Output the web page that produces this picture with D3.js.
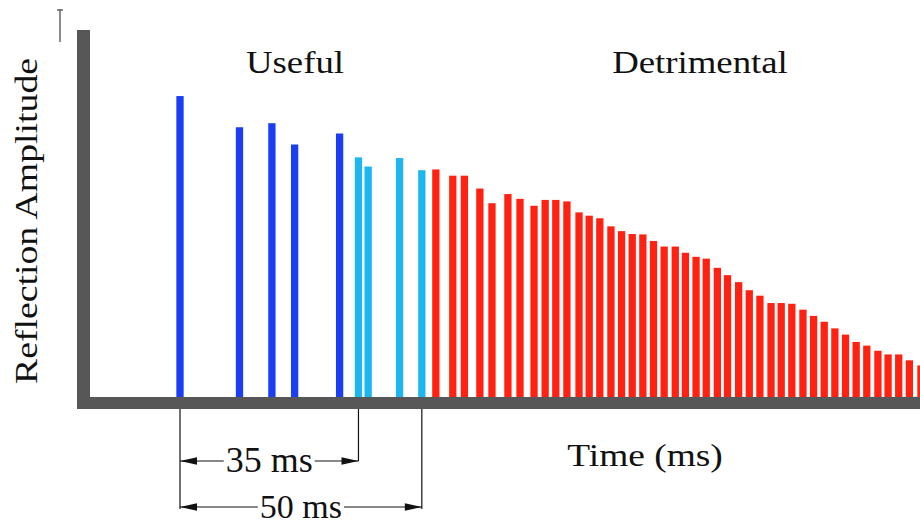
<!DOCTYPE html>
<html>
<head>
<meta charset="utf-8">
<script src="https://cdn.jsdelivr.net/npm/d3@7"></script>
<style>
  body { margin: 0; background: #fff; }
  text { font-family: "Liberation Serif", "Times New Roman", serif; fill: #111; }
</style>
</head>
<body>
<div id="chart"></div>
<script>
// arrival time (ms) and relative amplitude of each reflection
var directTimes = [0, 12.3, 19.0, 23.7, 33.0];
var directAmps = [0.82, 0.735, 0.746, 0.688, 0.718];

var earlyTimes = [36.9, 38.9, 45.4, 50.0];
var earlyAmps = [0.653, 0.628, 0.651, 0.618];

var lateTimes = [52.9, 56.4, 58.8, 62.0, 64.5, 67.8, 70.3, 73.2, 75.5, 77.7,
    80.0, 82.5, 84.6, 86.8, 89.1, 91.3, 93.5, 95.7, 97.9, 100.1,
    102.4, 104.5, 106.7, 108.8, 111.1, 113.2, 115.5, 117.7, 119.9, 122.2,
    124.3, 126.5, 128.8, 131.0, 133.2, 135.4, 137.6, 139.8, 142.0, 144.3,
    146.4, 148.6, 150.8, 153.2];
var lateAmps = [0.620, 0.603, 0.603, 0.568, 0.528, 0.553, 0.540, 0.521, 0.537, 0.537,
    0.533, 0.503, 0.494, 0.487, 0.465, 0.452, 0.444, 0.443, 0.425, 0.410,
    0.410, 0.393, 0.382, 0.377, 0.352, 0.332, 0.313, 0.291, 0.276, 0.256,
    0.256, 0.254, 0.238, 0.221, 0.205, 0.187, 0.170, 0.150, 0.140, 0.126,
    0.116, 0.116, 0.100, 0.086];

var regionLabels = ["Useful", "Detrimental"];
var bracketLabels = ["35 ms", "50 ms"];
var bracketEnds = [36.9, 50.0];

var width = 920, height = 525;

var svg = d3.select("#chart")
    .append("svg")
    .attr("width", width)
    .attr("height", height);

var x = d3.scaleLinear().domain([0, 153]).range([180, 920]);
var y = d3.scaleLinear().domain([0, 1]).range([397, 30]);

var groups = [
    { times: directTimes, amps: directAmps, color: "#1b3ef2" },
    { times: earlyTimes, amps: earlyAmps, color: "#1db6ee" },
    { times: lateTimes, amps: lateAmps, color: "#ff2212" }
];

var barW = 7.3;

groups.forEach(function(g) {
    var data = g.times.map(function(t, i) { return { t: t, a: g.amps[i] }; });
    svg.append("g").selectAll("rect")
        .data(data)
        .enter().append("rect")
        .attr("x", function(d) { return x(d.t) - barW / 2; })
        .attr("y", function(d) { return y(d.a); })
        .attr("width", barW)
        .attr("height", function(d) { return y(0) - y(d.a); })
        .attr("fill", g.color);
});

// thick gray axes
var axisColor = "#575757";
svg.append("rect")
    .attr("x", 77).attr("y", y(1))
    .attr("width", 13).attr("height", y(0) + 12 - y(1))
    .attr("fill", axisColor);
svg.append("rect")
    .attr("x", 77).attr("y", y(0))
    .attr("width", width - 77).attr("height", 12)
    .attr("fill", axisColor);

// small leftover arrow stub above the y axis
svg.append("line")
    .attr("x1", 60).attr("x2", 60).attr("y1", 9).attr("y2", 42)
    .attr("stroke", "#666").attr("stroke-width", 1.5);
svg.append("line")
    .attr("x1", 57).attr("x2", 63).attr("y1", 10).attr("y2", 10)
    .attr("stroke", "#666").attr("stroke-width", 1.5);

// region labels
svg.append("text")
    .attr("transform", "translate(295,73) scale(1.15,1)")
    .attr("text-anchor", "middle")
    .style("font-size", "32px")
    .text(regionLabels[0]);
svg.append("text")
    .attr("transform", "translate(700,73) scale(1.15,1)")
    .attr("text-anchor", "middle")
    .style("font-size", "32px")
    .text(regionLabels[1]);

// axis titles
svg.append("text")
    .attr("transform", "translate(645,466) scale(1.17,1)")
    .attr("text-anchor", "middle")
    .style("font-size", "32px")
    .text("Time (ms)");
svg.append("text")
    .attr("transform", "translate(37,221) rotate(-90) scale(1.18,1)")
    .attr("text-anchor", "middle")
    .style("font-size", "32px")
    .text("Reflection Amplitude");

// time brackets below the axis
var bracketY = [461, 507];
var lineBottom = 509;
var tickTop = y(0) + 12;

svg.append("line")
    .attr("x1", x(0)).attr("x2", x(0))
    .attr("y1", tickTop).attr("y2", lineBottom)
    .attr("stroke", "#111").attr("stroke-width", 1.2);

function arrowHead(px, py, dir) {
    var len = 17, hw = 3.8;
    return "M" + px + "," + py +
        "L" + (px + dir * len) + "," + (py - hw) +
        "L" + (px + dir * len) + "," + (py + hw) + "Z";
}

bracketLabels.forEach(function(lab, i) {
    var x0 = x(0), x1 = x(bracketEnds[i]), yy = bracketY[i];
    svg.append("line")
        .attr("x1", x1).attr("x2", x1)
        .attr("y1", tickTop).attr("y2", i === 0 ? yy : lineBottom)
        .attr("stroke", "#111").attr("stroke-width", 1.2);

    var cx = (x0 + x1) / 2;
    var t = svg.append("text")
        .attr("x", cx).attr("y", yy + 11)
        .attr("text-anchor", "middle")
        .style("font-size", i === 0 ? "36px" : "34px")
        .text(lab);
    var w = t.node().getComputedTextLength();

    svg.append("line")
        .attr("x1", x0).attr("x2", cx - w / 2 - 2)
        .attr("y1", yy).attr("y2", yy)
        .attr("stroke", "#111").attr("stroke-width", 1.2);
    svg.append("line")
        .attr("x1", cx + w / 2 + 2).attr("x2", x1)
        .attr("y1", yy).attr("y2", yy)
        .attr("stroke", "#111").attr("stroke-width", 1.2);
    svg.append("path").attr("d", arrowHead(x0, yy, 1)).attr("fill", "#111");
    svg.append("path").attr("d", arrowHead(x1, yy, -1)).attr("fill", "#111");
});
</script>
</body>
</html>
